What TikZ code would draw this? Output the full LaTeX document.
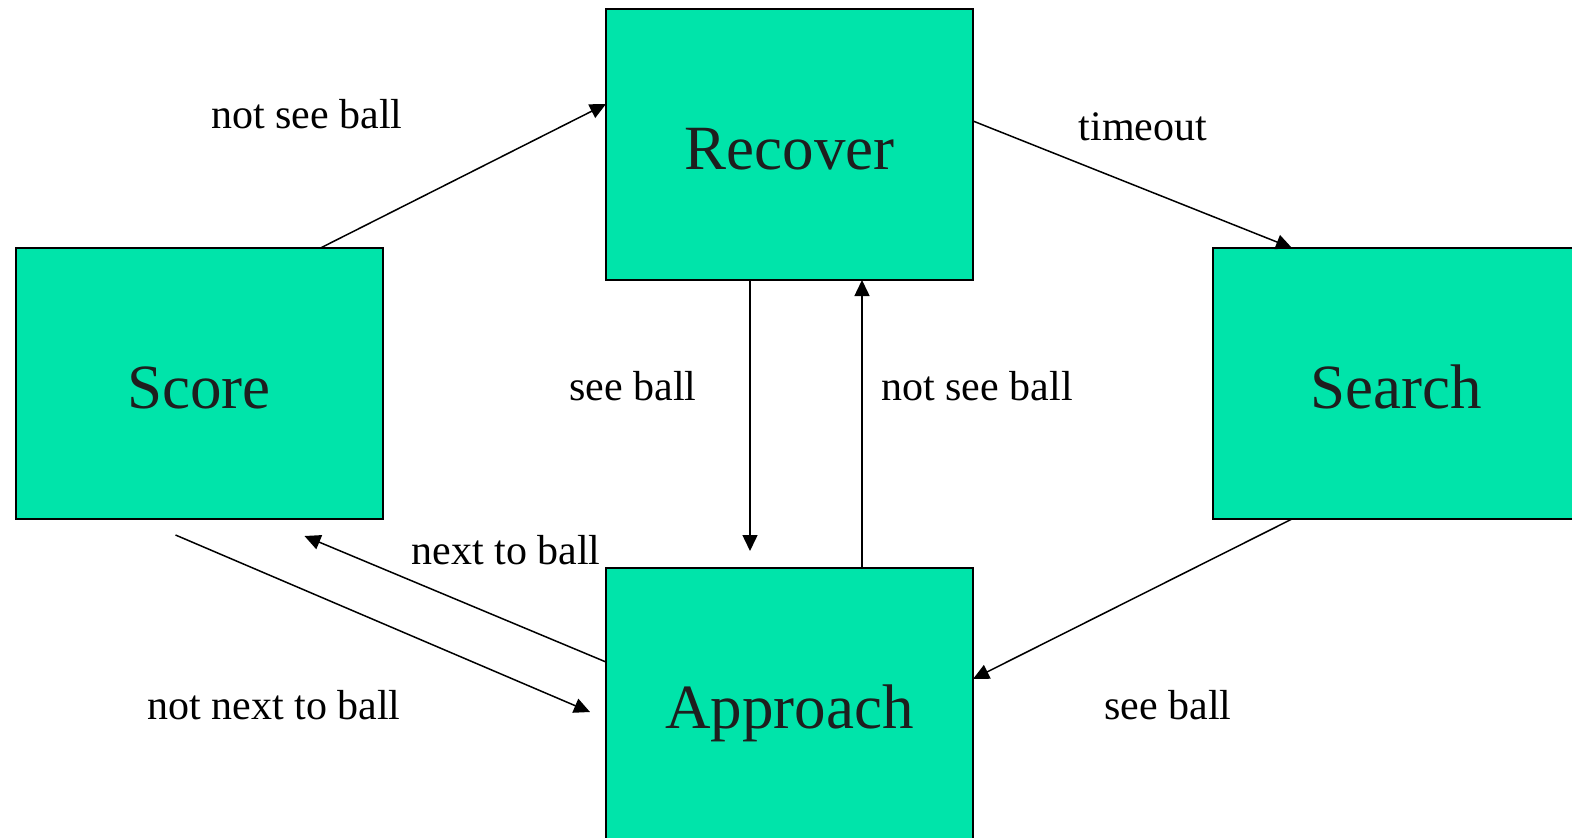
\documentclass[tikz,border=0pt]{standalone}
\usepackage{fontspec}
\setmainfont{Liberation Serif}
\usetikzlibrary{arrows.meta}
\definecolor{boxfill}{RGB}{0,228,170}
\definecolor{boxtext}{RGB}{30,30,30}
\tikzset{
  statebox/.style={draw=black, line width=2pt, fill=boxfill, minimum width=367pt, minimum height=271pt,
    inner sep=0pt, outer sep=0pt, text=boxtext, text height=50pt, text depth=0pt,
    font=\fontsize{63}{70}\selectfont},
  lbl/.style={inner sep=0pt, font=\fontsize{42}{48}\selectfont, text=black},
  conn/.style={line width=1.5pt, -{Triangle[length=16pt,width=15pt]}}
}
\begin{document}
\begin{tikzpicture}[x=1pt,y=-1pt]
\useasboundingbox (0,0) rectangle (1572,838);
\clip (0,0) rectangle (1572,838);
\begin{scope}[shift={(2,1)}]
\node[statebox] (recover) at (787.5,143.5) {Recover};
\node[statebox] (score) at (197,382.5) {Score};
\node[statebox] (search) at (1394.5,382.5) {Search};
\node[statebox] (approach) at (787.5,702.5) {Approach};

\node[lbl] (l1) at (305,113) {not see ball};
\node[lbl] (l2) at (1141,126) {timeout};
\node[lbl] (l3) at (631,385) {see ball};
\node[lbl] (l4) at (975,385) {not see ball};
\node[lbl] (l5) at (504,549) {next to ball};
\node[lbl] (l6) at (272,704) {not next to ball};
\node[lbl] (l7) at (1166,704) {see ball};

\draw[conn] ([xshift=305pt]score.north west) -- ([yshift=-95pt]recover.north west);
\draw[conn] ([yshift=-112pt]recover.north east) -- ([xshift=79pt]search.north west);
\draw[conn] ([xshift=144pt]recover.south west) -- ([xshift=144pt,yshift=17pt]approach.north west);
\draw[conn] ([xshift=256pt]approach.north west) -- ([xshift=256pt]recover.south west);
\draw[conn] ([xshift=79pt]search.south west) -- ([yshift=-111pt]approach.north east);
\draw[conn] ([yshift=-94pt]approach.north west) -- ([xshift=289pt,yshift=-17pt]score.south west);
\draw[conn] ([xshift=160pt,yshift=-16pt]score.south west) -- ([xshift=-16pt,yshift=-144pt]approach.north west);
\end{scope}
\end{tikzpicture}
\end{document}
